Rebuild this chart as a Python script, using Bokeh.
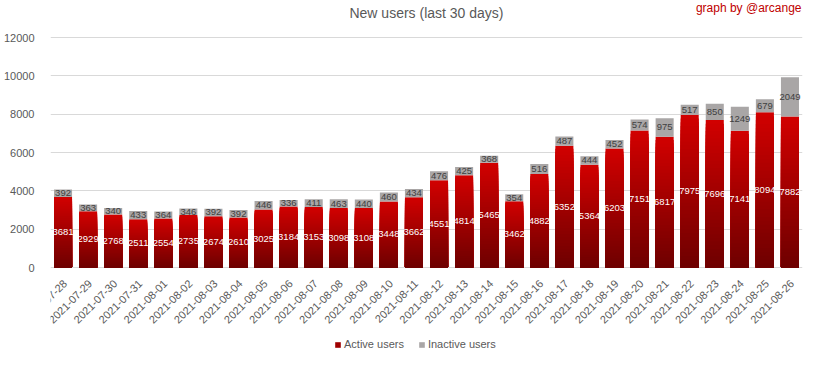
import math
from bokeh.plotting import figure
from bokeh.models import (ColumnDataSource, FactorRange, Legend, LegendItem, Label,
                          FixedTicker)
from bokeh.core.properties import value
from bokeh.embed import file_html
from bokeh.resources import INLINE

dates = ["2021-07-28", "2021-07-29", "2021-07-30", "2021-07-31", "2021-08-01",
         "2021-08-02", "2021-08-03", "2021-08-04", "2021-08-05", "2021-08-06",
         "2021-08-07", "2021-08-08", "2021-08-09", "2021-08-10", "2021-08-11",
         "2021-08-12", "2021-08-13", "2021-08-14", "2021-08-15", "2021-08-16",
         "2021-08-17", "2021-08-18", "2021-08-19", "2021-08-20", "2021-08-21",
         "2021-08-22", "2021-08-23", "2021-08-24", "2021-08-25", "2021-08-26"]
active = [3681, 2929, 2768, 2511, 2554, 2735, 2674, 2610, 3025, 3184,
          3153, 3098, 3108, 3448, 3662, 4551, 4814, 5465, 3462, 4882,
          6352, 5364, 6203, 7151, 6817, 7975, 7696, 7141, 8094, 7882]
inactive = [392, 363, 340, 433, 364, 346, 392, 392, 446, 336,
            411, 463, 440, 460, 434, 476, 425, 368, 354, 516,
            487, 444, 452, 574, 975, 517, 850, 1249, 679, 2049]
y_ticks = [0, 2000, 4000, 6000, 8000, 10000, 12000]

FONT = "Liberation Sans"
GRAY_TXT = "#595959"

# plot area layout (pixels): 37 headroom + 230 for 0..12000 + 85 for date labels/legend
HEAD, BODY, FOOT = 37, 230, 85
FRAME_H = HEAD + BODY + FOOT
upp = max(y_ticks) / BODY          # data units per pixel
y_top = max(y_ticks) + HEAD * upp
y_bot = -FOOT * upp

p = figure(x_range=FactorRange(*dates), y_range=(y_bot, y_top),
           frame_width=752, frame_height=FRAME_H, x_axis_location=None,
           output_backend="svg", toolbar_location=None,
           min_border_left=41, min_border_right=7, min_border_top=0,
           min_border_bottom=0)

p.outline_line_color = None
p.xgrid.visible = False
p.ygrid.grid_line_color = "#d9d9d9"
p.ygrid.grid_line_width = 1

p.yaxis.ticker = FixedTicker(ticks=y_ticks)
p.yaxis.axis_line_color = None
p.yaxis.major_tick_line_color = None
p.yaxis.minor_tick_line_color = None
p.yaxis.major_label_text_color = GRAY_TXT
p.yaxis.major_label_text_font = FONT
p.yaxis.major_label_text_font_size = "11px"
p.yaxis.major_label_standoff = 10

p.add_layout(Label(x=376, y=FRAME_H - 12, x_units="screen", y_units="screen",
                   text="New users (last 30 days)", text_align="center",
                   text_baseline="middle", text_color=GRAY_TXT,
                   text_font=FONT, text_font_size="14px"))
p.add_layout(Label(x=751, y=FRAME_H - 7, x_units="screen", y_units="screen",
                   text="graph by @arcange", text_align="right",
                   text_baseline="middle", text_color="#c00000",
                   text_font=FONT, text_font_size="12px"))

# gradient-like active bars: nested bars from tallest (bright) to shortest (dark)
N = 40
top_c = (210, 0, 0)
bot_c = (110, 0, 0)
sx, stop, scol = [], [], []
for d, a in zip(dates, active):
    for k in range(N, 0, -1):
        t = (k - 0.5) / N
        c = tuple(int(round(bot_c[j] + (top_c[j] - bot_c[j]) * t)) for j in range(3))
        sx.append(d)
        stop.append(a * k / N)
        scol.append("#%02x%02x%02x" % c)
seg_src = ColumnDataSource(dict(x=sx, top=stop, color=scol))
seg = p.vbar(x="x", top="top", bottom=0, width=0.72, source=seg_src,
             fill_color="color", line_color=None)

tot = [a + b for a, b in zip(active, inactive)]
gray_src = ColumnDataSource(dict(x=dates, bottom=active, top=tot))
gray = p.vbar(x="x", bottom="bottom", top="top", width=0.72, source=gray_src,
              fill_color="#a9a6a6", line_color=None)

lab_src = ColumnDataSource(dict(
    x=dates,
    ya=[a / 2 for a in active],
    ta=[str(a) for a in active],
    yi=[a + b / 2 for a, b in zip(active, inactive)],
    ti=[str(b) for b in inactive]))
p.text(x="x", y="ya", text="ta", source=lab_src, text_align="center",
       text_baseline="middle", text_color="white", text_font=value(FONT),
       text_font_size="9.5px")
p.text(x="x", y="yi", text="ti", source=lab_src, text_align="center",
       text_baseline="middle", text_color="#404040", text_font=value(FONT),
       text_font_size="9.5px")

# category (date) labels along the baseline, rotated 45 degrees
date_src = ColumnDataSource(dict(x=dates, y=[-14 * upp] * len(dates), t=dates))
p.text(x="x", y="y", text="t", source=date_src, angle=math.pi / 4,
       x_offset=2, text_align="right", text_baseline="middle",
       text_color=GRAY_TXT, text_font=value(FONT), text_font_size="11px")

legend = Legend(items=[LegendItem(label="Active users", renderers=[seg], index=N // 2),
                       LegendItem(label="Inactive users", renderers=[gray])],
                orientation="horizontal", location=(284, 2),
                glyph_width=7, glyph_height=7, label_text_font=FONT,
                label_text_font_size="11px", label_text_color=GRAY_TXT,
                border_line_color=None, background_fill_alpha=0,
                spacing=14, label_standoff=3, padding=0, margin=0,
                label_height=12)
p.add_layout(legend, "center")

open("out.html", "w").write(file_html(p, INLINE))
